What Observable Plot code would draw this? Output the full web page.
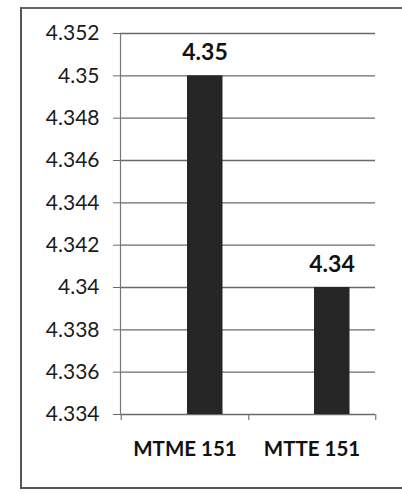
<!DOCTYPE html>
<html>
<head>
<meta charset="utf-8">
<script src="https://cdn.jsdelivr.net/npm/d3@7"></script>
<script src="https://cdn.jsdelivr.net/npm/@observablehq/plot@0.6"></script>
<style>
  html, body { margin: 0; padding: 0; background: #fff; }
  #wrap { position: relative; width: 402px; height: 494px; }
  #border { position: absolute; left: 20px; top: 7px; width: 380px; height: 478px;
            border-left: 2px solid #555; border-top: 2px solid #666; border-bottom: 2px solid #555; border-right: 1px solid #aaa; }
  #chart { position: absolute; left: 0; top: 0; }
</style>
</head>
<body>
<div id="wrap"><div id="border"></div><div id="chart"></div></div>
<script>
const categories = ["MTME 151", "MTTE 151"];
const values = [4.35, 4.34];
const valueLabels = ["4.35", "4.34"];
const yTicks = [4.334, 4.336, 4.338, 4.34, 4.342, 4.344, 4.346, 4.348, 4.35, 4.352];
const yTickLabels = ["4.334", "4.336", "4.338", "4.34", "4.342", "4.344", "4.346", "4.348", "4.35", "4.352"];

const data = categories.map((c, i) => ({cat: c, value: values[i], label: valueLabels[i]}));

const W = 402, H = 494, mL = 120, mR = 27, mT = 33, mB = 80;
const bw = (W - mL - mR) / categories.length;
const base = yTicks[0];
const font = "Lato, 'Open Sans', sans-serif";

const plot = Plot.plot({
  width: W, height: H,
  marginLeft: mL, marginRight: mR, marginTop: mT, marginBottom: mB,
  style: {fontFamily: font, background: "transparent", color: "#1a1a1a"},
  x: {domain: categories, padding: 0},
  y: {domain: [yTicks[0], yTicks[yTicks.length - 1]]},
  marks: [
    Plot.ruleY(yTicks, {stroke: "#6a6a6a", strokeWidth: 1.3, strokeOpacity: 1}),
    Plot.axisY({ticks: yTicks, tickFormat: (d) => yTickLabels[yTicks.indexOf(d)], tickSize: 7, tickPadding: 14,
                fontSize: 21, stroke: "#6a6a6a", strokeOpacity: 1, fill: "#1a1a1a", label: null}),
    Plot.axisX({tickSize: 0, tickPadding: 27, fontSize: 20.5, fontWeight: "bold", fill: "#111", label: null}),
    Plot.frame({anchor: "left", stroke: "#777", strokeWidth: 1.2}),
    Plot.ruleX(categories, {x: d => d, y1: () => base, y2: () => base, insetBottom: -6, dx: bw / 2, stroke: "#777", strokeWidth: 1.2}),
    Plot.ruleX([categories[0]], {x: d => d, y1: () => base, y2: () => base, insetBottom: -6, dx: -bw / 2, stroke: "#777", strokeWidth: 1.2}),
    Plot.barY(data, {x: "cat", y1: () => base, y2: "value", fill: "#262626", insetLeft: 66, insetRight: bw - 66 - 36}),
    Plot.text(data, {x: "cat", y: "value", text: "label", dx: 20, dy: -23, fontSize: 23, fontWeight: "bold", fill: "#111"})
  ]
});
document.getElementById("chart").appendChild(plot);
</script>
</body>
</html>
